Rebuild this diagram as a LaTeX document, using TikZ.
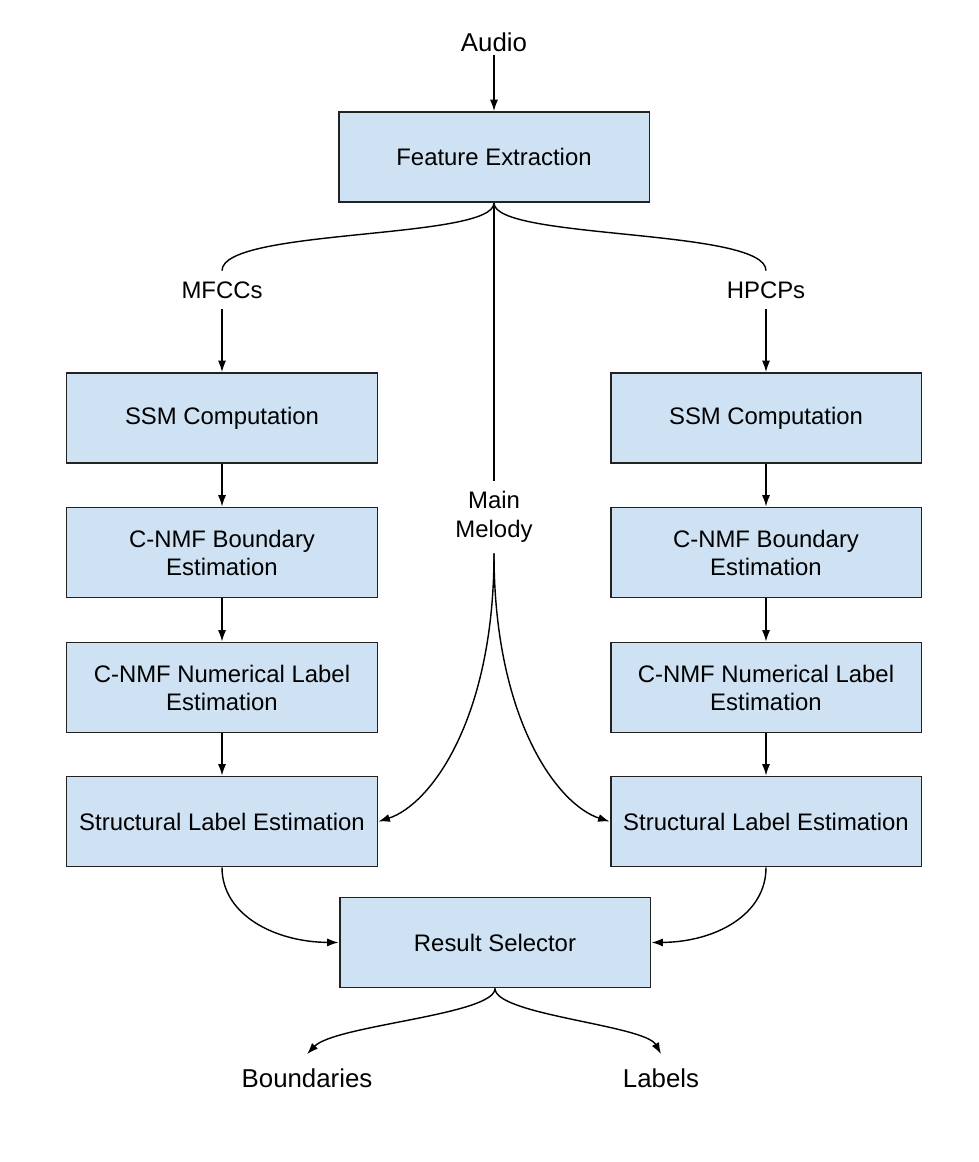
\documentclass[tikz,border=0pt]{standalone}
\usepackage{fontspec}
\setmainfont{Liberation Sans}
\usetikzlibrary{arrows.meta}
\tikzset{>={Latex[length=6.5pt,width=4.6pt]}}
\definecolor{myblue}{RGB}{207, 226, 243}
\definecolor{mygray}{RGB}{34, 34, 34}
\tikzset{
  block/.style={draw=mygray, fill=myblue, line width=1.1pt, minimum width=6.22cm,
    minimum height=1.8cm, align=center, font=\fontsize{13.6}{15.9}\selectfont},
  lbl/.style={align=center, inner sep=6pt, font=\fontsize{13.6}{16.4}\selectfont},
  biglbl/.style={inner sep=8pt, font=\fontsize{14.7}{17}\selectfont},
  conn/.style={line width=0.8pt}
}
\begin{document}
\begin{tikzpicture}[x=0.02cm, y=-0.02cm]
\useasboundingbox (0,0) rectangle (979,1162);
% input
\node[biglbl, inner sep=2pt] (audio) at (494,42) {Audio};
\node[block] (fe) at (494,157) {Feature Extraction};
\node[lbl] (mfcc) at (222,290) {MFCCs};
\node[lbl] (hpcp) at (766,290) {HPCPs};
\node[lbl] (melody) at (494,517) {Main\\Melody};
% left column
\node[block] (ssmL) at (222,418) {SSM Computation};
\node[block] (bndL) at (222,552.5) {C-NMF Boundary\\Estimation};
\node[block] (numL) at (222,687.5) {C-NMF Numerical Label\\Estimation};
\node[block] (strL) at (222,821.5) {Structural Label Estimation};
% right column
\node[block] (ssmR) at (766,418) {SSM Computation};
\node[block] (bndR) at (766,552.5) {C-NMF Boundary\\Estimation};
\node[block] (numR) at (766,687.5) {C-NMF Numerical Label\\Estimation};
\node[block] (strR) at (766,821.5) {Structural Label Estimation};
% output
\node[block] (rs) at (495,942.5) {Result Selector};
\node[biglbl] (bnd) at (307,1078) {Boundaries};
\node[biglbl] (lab) at (661,1078) {Labels};

\draw[conn, ->] (audio) -- (fe);
\draw[conn] (fe.south) .. controls (494,240) and (222,228) .. (mfcc.north);
\draw[conn] (fe.south) .. controls (494,240) and (766,228) .. (hpcp.north);
\draw[conn] (fe.south) -- (melody.north);
\draw[conn, ->] (mfcc) -- (ssmL);
\draw[conn, ->] (hpcp) -- (ssmR);
\draw[conn, ->] (ssmL) -- (bndL);
\draw[conn, ->] (bndL) -- (numL);
\draw[conn, ->] (numL) -- (strL);
\draw[conn, ->] (ssmR) -- (bndR);
\draw[conn, ->] (bndR) -- (numR);
\draw[conn, ->] (numR) -- (strR);
\draw[conn, ->] (melody.south) .. controls (494,720) and (430,805) .. (strL.east);
\draw[conn, ->] (melody.south) .. controls (494,720) and (558,805) .. (strR.west);
\draw[conn, ->] (strL.south) .. controls (222,915) and (275,942) .. (rs.west);
\draw[conn, ->] (strR.south) .. controls (766,915) and (715,942) .. (rs.east);
\draw[conn, ->] (rs.south) .. controls (495,1015) and (335,1025) .. (bnd.north);
\draw[conn, ->] (rs.south) .. controls (495,1015) and (645,1025) .. (lab.north);
\end{tikzpicture}
\end{document}
